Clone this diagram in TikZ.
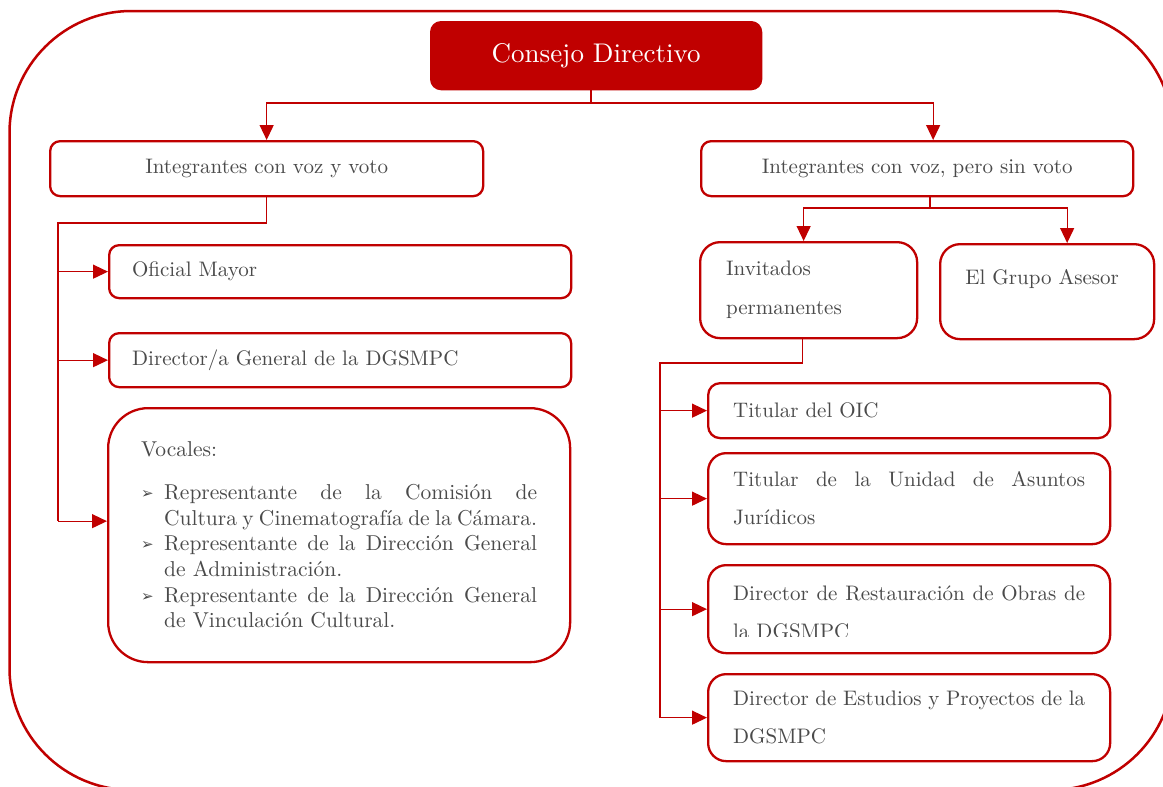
\documentclass[tikz,border=0pt]{standalone}
\usepackage{fontspec}
\setmainfont{lmroman10-regular}[Extension=.otf]
\newfontfamily\dejavu{DejaVu Sans}
\usetikzlibrary{arrows.meta}
\definecolor{dred}{HTML}{C00000}
\definecolor{tgray}{HTML}{4A4A4A}
\newcommand{\bulmark}{\makebox[23pt][l]{\raisebox{1pt}{\dejavu\fontsize{15}{15}\selectfont ➢}}}
\newcommand{\spreadln}[2]{\makebox[#1][s]{\spaceskip=0pt\xspaceskip=0pt\relax #2}}
\begin{document}
\begin{tikzpicture}[x=1pt,y=-1pt,
  box/.style={draw=dred, line width=2.3pt, fill=white, text=tgray, rounded corners=10pt, anchor=north west, inner sep=0pt, font=\fontsize{21}{38}\selectfont},
  lefttext/.style={align=left},
  conn/.style={draw=dred, line width=1.3pt},
  arr/.style={conn, -{Triangle[length=15pt,width=14pt]}},
]
\useasboundingbox (0,0) rectangle (1163,787);
% outer frame
\draw[dred, line width=2.5pt, rounded corners=122pt] (9.5,11) rectangle (1173,790);

% top
\node[box, fill=dred, draw=dred, text=white, minimum width=330pt, minimum height=67pt, font=\fontsize{27}{30}\selectfont] (cd) at (430,21) {Consejo Directivo};

\node[box, minimum width=433pt, minimum height=55pt] (ivv) at (49,140) {Integrantes con voz y voto};
\node[box, minimum width=432pt, minimum height=55pt] (isv) at (700,140) {Integrantes con voz, pero sin voto};

% left column
\node[box, lefttext, inner xsep=23pt, text width=416pt, minimum height=53pt] (om) at (108,244) {Oficial Mayor};
\node[box, lefttext, inner xsep=23pt, text width=416pt, minimum height=54pt] (dg) at (108,332) {Director/a General de la DGSMPC};
\node[box, lefttext, rounded corners=40pt, inner xsep=33pt, text width=396pt, minimum height=254pt, font=\fontsize{21.5}{25.7}\selectfont] (voc) at (107,407) {Vocales:\\[17pt]
\bulmark\spreadln{373pt}{Representante de la Comisión de}\\
\hspace*{23pt}\spreadln{373pt}{Cultura y Cinematografía de la Cámara.}\\
\bulmark\spreadln{373pt}{Representante de la Dirección General}\\
\hspace*{23pt}\mbox{de Administración.}\\
\bulmark\spreadln{373pt}{Representante de la Dirección General}\\
\hspace*{23pt}\mbox{de Vinculación Cultural.}};

% right column
\node[box, lefttext, rounded corners=20pt, inner xsep=26pt, text width=165pt, minimum height=96pt, font=\fontsize{21}{39}\selectfont] (inv) at (699,241) {Invitados\\permanentes};
\node[box, rounded corners=20pt, minimum width=214pt, minimum height=95pt] (ga) at (939,243) {};
\node[text=tgray, inner sep=0pt, font=\fontsize{21}{38}\selectfont] (gat) at ([xshift=-5pt,yshift=12.5pt]ga.center) {El Grupo Asesor};

\node[box, lefttext, rounded corners=12pt, inner xsep=25pt, text width=352pt, minimum height=55pt] (oic) at (707,382) {Titular del OIC};
\node[box, lefttext, rounded corners=18pt, inner xsep=25pt, text width=352pt, minimum height=91pt] (uaj) at (707,452) {\spreadln{352pt}{Titular de la Unidad de Asuntos}\\Jurídicos};
\node[box, rounded corners=18pt, minimum width=402pt, minimum height=88pt] (rest) at (707,564) {};
\begin{scope}
\clip (707,564) rectangle (1109,636.5);
\node[text=tgray, inner sep=0pt, text width=352pt, align=left, font=\fontsize{21}{38}\selectfont] (restt) at ([yshift=-3pt]rest.center) {\spreadln{352pt}{Director de Restauración de Obras de}\\la DGSMPC};
\end{scope}
\node[box, lefttext, rounded corners=18pt, inner xsep=25pt, text width=352pt, minimum height=87pt] (est) at (707,673) {\spreadln{352pt}{Director de Estudios y Proyectos de la}\\DGSMPC};

% connectors top
\coordinate (j1) at (591,103);
\coordinate (isvin) at ([xshift=16pt]isv.north);
\draw[conn] (cd.south -| j1) -- (j1);
\draw[arr] (j1) -| (ivv.north);
\draw[arr] (j1) -| (isvin);

% left trunk
\coordinate (lt) at (58,223);
\coordinate (vin) at ([yshift=14pt]voc.west);
\draw[conn] (ivv.south) |- (lt) -- (vin -| lt);
\draw[arr] (om.west -| lt) -- (om.west);
\draw[arr] (dg.west -| lt) -- (dg.west);
\draw[arr] (vin -| lt) -- (vin);

% right split
\coordinate (rj) at (930,208);
\coordinate (iain) at ([xshift=-5pt]inv.north);
\coordinate (gain) at ([xshift=20pt]ga.north);
\draw[conn] (isv.south -| rj) -- (rj);
\draw[arr] (rj) -| (iain);
\draw[arr] (rj) -| (gain);

% right trunk
\coordinate (rt) at (660,363);
\coordinate (ib) at ([xshift=-6pt]inv.south);
\draw[conn] (ib) |- (rt) -- (est.west -| rt);
\draw[arr] (oic.west -| rt) -- (oic.west);
\draw[arr] (uaj.west -| rt) -- (uaj.west);
\draw[arr] (rest.west -| rt) -- (rest.west);
\draw[arr] (est.west -| rt) -- (est.west);
\end{tikzpicture}
\end{document}
